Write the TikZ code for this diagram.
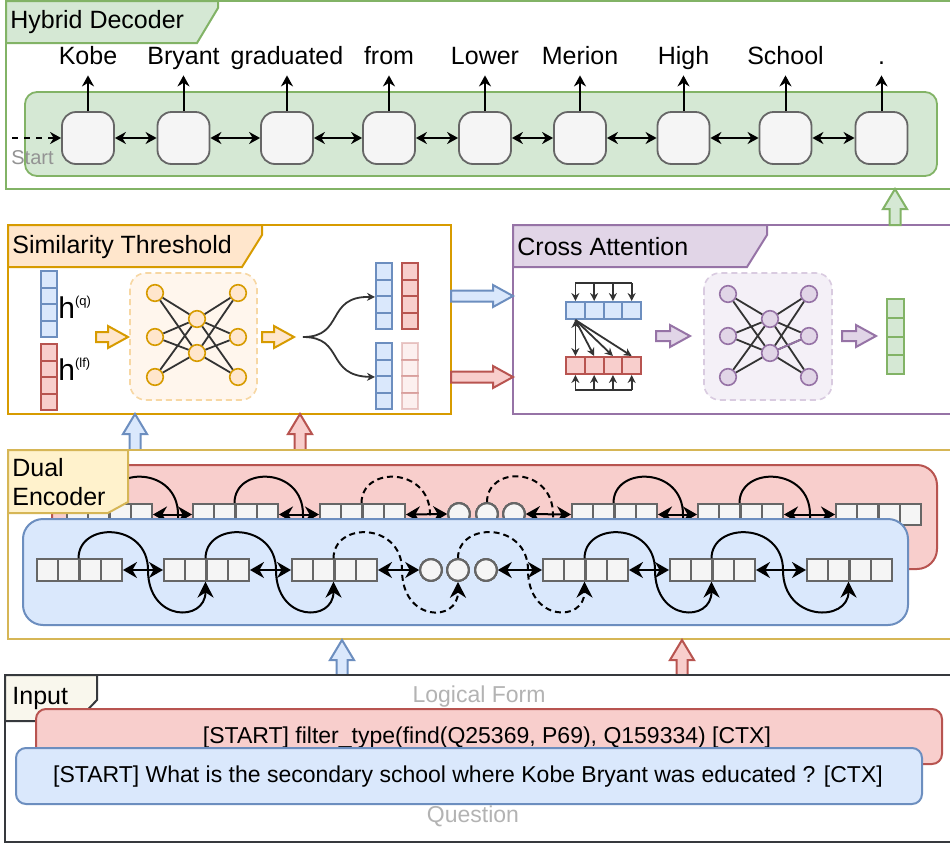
\documentclass[tikz,border=0pt]{standalone}
\usepackage{fontspec}
\setmainfont{Liberation Sans}
\usetikzlibrary{arrows.meta,calc}

\definecolor{greenF}{HTML}{D5E8D4}
\definecolor{greenS}{HTML}{82B366}
\definecolor{blueF}{HTML}{DAE8FC}
\definecolor{blueS}{HTML}{6C8EBF}
\definecolor{redF}{HTML}{F8CECC}
\definecolor{redS}{HTML}{B85450}
\definecolor{orangeF}{HTML}{FFE6CC}
\definecolor{orangeS}{HTML}{D79B00}
\definecolor{yellowF}{HTML}{FFF2CC}
\definecolor{yellowS}{HTML}{D6B656}
\definecolor{purpleF}{HTML}{E1D5E7}
\definecolor{purpleS}{HTML}{9673A6}
\definecolor{grayF}{HTML}{F5F5F5}
\definecolor{grayS}{HTML}{666666}
\definecolor{inputF}{HTML}{F9F7ED}
\definecolor{inputS}{HTML}{36393D}
\definecolor{darkG}{HTML}{333333}
\definecolor{labelG}{HTML}{B3B3B3}

% column of 4 cells: name, x, y of first cell, step, style
\newcommand{\vcol}[5]{\foreach \k in {1,...,4} \node[#5] (#1\k) at (#2,{#3+#4*(\k-1)}) {};}
% block of 4 token cells: name, left x, y
\newcommand{\tblock}[3]{\foreach \k in {1,...,4} \node[tcell] (#1-\k) at ({#2+10.625+21.25*(\k-1)},#3) {};}
% s-shaped skip connection: style, start, crossing point, end
\newcommand{\scurve}[4]{\draw[#1] (#2) .. controls +(0,-37) and +(0,-48) .. (#3) .. controls +(0,52) and +(0,41) .. (#4);}

\tikzset{
  pics/blockarr/.style args={#1/#2/#3/#4}{code={
    \draw[pic actions] (0,-#3) -- ({#1-#2},-#3) -- ({#1-#2},-#4) -- (#1,0) -- ({#1-#2},#4) -- ({#1-#2},#3) -- (0,#3) -- cycle;
  }},
}

\begin{document}
\begin{tikzpicture}[x=0.5pt,y=-0.5pt,
    every node/.style={font=\fontsize{12.5}{14.5}\selectfont},
    frame/.style={line width=1pt, fill=white},
    dcell/.style={draw=grayS, fill=grayF, line width=0.9pt, rounded corners=7pt, minimum size=26pt, inner sep=0pt},
    word/.style={anchor=base, inner sep=0pt, text depth=5.5pt},
    arr/.style={-{Stealth[length=5.5pt,width=6pt]}, line width=1pt},
    dbl/.style={{Stealth[length=5.5pt,width=6pt]}-{Stealth[length=5.5pt,width=6pt]}, line width=1pt},
    bcell/.style={draw=blueS, fill=blueF, line width=1pt, minimum width=8pt, minimum height=8.25pt, inner sep=0pt},
    rcell/.style={draw=redS, fill=redF, line width=1pt, minimum width=8pt, minimum height=8.25pt, inner sep=0pt},
    gcell/.style={draw=greenS, fill=greenF, line width=1pt, minimum width=8.5pt, minimum height=9.4pt, inner sep=0pt},
    onode/.style={circle, draw=orangeS, fill=orangeF, line width=0.8pt, minimum size=8.3pt, inner sep=0pt},
    pnode/.style={circle, draw=purpleS, fill=purpleF, line width=0.8pt, minimum size=8.3pt, inner sep=0pt},
    nnedge/.style={draw=darkG, line width=0.9pt},
    smarr/.style={-{Stealth[length=4pt,width=4pt]}, draw=darkG, line width=0.9pt},
    tcell/.style={draw=grayS, fill=grayF, line width=1pt, minimum size=10.6pt, inner sep=0pt},
    tcirc/.style={circle, draw=grayS, fill=grayF, line width=1pt, minimum size=10.8pt, inner sep=0pt},
    edbl/.style={{Stealth[length=7pt,width=8pt]}-{Stealth[length=7pt,width=8pt]}, line width=1pt},
    skip/.style={-{Stealth[length=8pt,width=8pt]}, line width=1pt},
    dskip/.style={skip, dash pattern=on 3pt off 2pt},
    barr/.style={line width=1pt}]

\useasboundingbox (0,0) rectangle (950,847);

% ---------- Hybrid Decoder
\draw[frame, draw=greenS] (6,1) rectangle (953,189);
\draw[line width=1pt, draw=greenS, fill=greenF] (6,1) -- (218,1) -- (218,8) -- (197,43) -- (6,43) -- cycle;
\node[anchor=west, inner sep=0pt] (dectitle) at (10,22) {Hybrid Decoder};
\draw[draw=greenS, fill=greenF, line width=0.9pt, rounded corners=6pt] (25,92) rectangle (937,176);

\foreach \x [count=\i] in {88,183.5,287,389,485,580,683.5,785.5,881.5}
  \node[dcell] (d\i) at (\x,138) {};
\foreach \w [count=\i] in {Kobe,Bryant,graduated,from,Lower,Merion,High,School,.}
  \path (d\i.center) ++(0,-74) node[word] (w\i) {\w};
\foreach \i in {1,...,9}
  \draw[arr] (d\i.north) -- (w\i.south);
\foreach \i [remember=\i as \lasti (initially 1)] in {2,...,9}
  \draw[dbl] (d\lasti) -- (d\i);

\coordinate (start) at (12,138);
\draw[arr, dashed] (start) -- (d1);
\node[font=\fontsize{10}{12}\selectfont, text=gray!85, anchor=west, inner sep=0pt] (startlbl) at (11,158) {Start};

% ---------- Similarity Threshold
\draw[frame, draw=orangeS] (8,225) rectangle (451,414);
\draw[line width=1pt, draw=orangeS, fill=orangeF] (8,225) -- (262,225) -- (262,235) -- (242,267) -- (8,267) -- cycle;
\node[anchor=west, inner sep=0pt] (simtitle) at (12,247) {Similarity Threshold};

\vcol{hq}{49}{279.25}{16.5}{bcell}
\vcol{hl}{49}{352.25}{16.5}{rcell}
\node[anchor=base west, inner sep=0pt] (hqlbl) at (58,318) {\fontsize{15}{15}\selectfont h\raisebox{6.5pt}{\fontsize{6.5}{7}\selectfont(q)}};
\node[anchor=base west, inner sep=0pt] (hllbl) at (58,380) {\fontsize{15}{15}\selectfont h\raisebox{6.5pt}{\fontsize{6.5}{7}\selectfont(lf)}};

\pic[barr, draw=orangeS, fill=orangeF] at (96,337) {blockarr=32/20/5/11};
\draw[draw=orangeF!80!orangeS, fill=orangeF!35, line width=0.8pt, dash pattern=on 3pt off 2pt, rounded corners=8pt] (130,273) rectangle (257,400);
\foreach \y [count=\i] in {293,337,377} {
  \node[onode] (ol\i) at (155,\y) {};
  \node[onode] (or\i) at (238,\y) {};
}
\node[onode] (om1) at (197,319) {};
\node[onode] (om2) at (197,353) {};
\foreach \a in {1,2,3} \foreach \b in {1,2}
  \draw[nnedge] (ol\a) -- (om\b) (om\b) -- (or\a);
\pic[barr, draw=orangeS, fill=orangeF] at (262,337) {blockarr=32/20/5/11};

\vcol{sb}{384}{271.25}{16.5}{bcell}
\vcol{sr}{410}{271.25}{16.5}{rcell}
\vcol{tb}{384}{351.25}{16.5}{bcell}
\vcol{tr}{410}{351.25}{16.5}{rcell, opacity=0.3}
\coordinate (fork) at (303,337);
\draw[smarr] (fork) .. controls (345,337) and (325,296) .. (sb2.south west);
\draw[smarr] (fork) .. controls (345,337) and (325,376) .. (tb2.south west);

% ---------- Cross Attention
\draw[frame, draw=purpleS] (513,225) rectangle (953,414);
\draw[line width=1pt, draw=purpleS, fill=purpleF] (513,225) -- (767,225) -- (767,235) -- (747,267) -- (513,267) -- cycle;
\node[anchor=west, inner sep=0pt] (crosstitle) at (517,247) {Cross Attention};

\pic[barr, draw=blueS, fill=blueF] at (451,296) {blockarr=62/20/5.5/11};
\pic[barr, draw=redS, fill=redF] at (451,377) {blockarr=62/20/5.5/11};

\foreach \k in {1,...,4} {
  \node[bcell, minimum width=9.4pt, minimum height=8.5pt] (qa\k) at ({575.4+18.75*(\k-1)},310.5) {};
  \node[rcell, minimum width=9.4pt, minimum height=8.5pt] (ka\k) at ({575.4+18.75*(\k-1)},365.5) {};
}
\draw[draw=darkG, line width=0.9pt] ([yshift=9pt]qa1.north) -- ([yshift=9pt]qa4.north);
\draw[draw=darkG, line width=0.9pt] ([yshift=-7.5pt]ka1.south) -- ([yshift=-7.5pt]ka4.south);
\foreach \k in {1,...,4} {
  \draw[smarr] ([yshift=9pt]qa\k.north) -- (qa\k.north);
  \draw[smarr] ([yshift=-7.5pt]ka\k.south) -- (ka\k.south);
}
\draw[smarr, {Stealth[length=4pt,width=4pt]}-{Stealth[length=4pt,width=4pt]}] (qa1.south) -- (ka1.north);
\foreach \k in {2,3,4}
  \draw[smarr] (qa1.south) -- (ka\k.north);

\pic[barr, draw=purpleS, fill=purpleF] at (656,336) {blockarr=34/20/5/11};
\draw[draw=purpleF!90!purpleS, fill=purpleF!35, line width=0.8pt, dash pattern=on 3pt off 2pt, rounded corners=8pt] (704,273) rectangle (832,400);
\foreach \y [count=\i] in {294,336,377} {
  \node[pnode] (pl\i) at (728,\y) {};
  \node[pnode] (pr\i) at (809,\y) {};
}
\node[pnode] (pm1) at (770,319) {};
\node[pnode] (pm2) at (770,353) {};
\foreach \a in {1,2,3} \foreach \b in {1,2}
  \draw[nnedge] (pl\a) -- (pm\b) (pm\b) -- (pr\a);
\draw[nnedge, draw=purpleS] (pm2) -- (pr2);
\pic[barr, draw=purpleS, fill=purpleF] at (842,336) {blockarr=34/20/5/11};
\vcol{ov}{895}{308.4}{18.75}{gcell}

\pic[barr, draw=greenS, fill=greenF, rotate=90] at (895,225) {blockarr=36/20/5.5/12};

% ---------- Dual Encoder
\pic[barr, draw=blueS, fill=blueF, rotate=90] at (135,450) {blockarr=36/20/5.5/12};
\pic[barr, draw=redS, fill=redF, rotate=90] at (300,450) {blockarr=36/20/5.5/12};

\draw[frame, draw=yellowS] (8,450) rectangle (953,639);

% logical form encoder
\draw[draw=redS, fill=redF, line width=1pt, rounded corners=10pt] (52,465) rectangle (937,569);
\foreach \n/\x in {rb1/67,rb2/193,rb3/320,rb4/572,rb5/698,rb6/836}
  \tblock{\n}{\x}{514.5}
\foreach \x [count=\i] in {459,487,514}
  \node[tcirc] (rc\i) at (\x,514) {};
\draw[edbl] (rb1-4.east) -- (rb2-1.west);
\draw[edbl] (rb2-4.east) -- (rb3-1.west);
\draw[edbl] (rb3-4.east) -- (rc1.west);
\draw[edbl] (rc3.east) -- (rb4-1.west);
\draw[edbl] (rb4-4.east) -- (rb5-1.west);
\draw[edbl] (rb5-4.east) -- (rb6-1.west);
\scurve{skip}{rb1-3.north west}{178,514.5}{rb2-3.south west}
\scurve{skip}{rb2-3.north west}{303,514.5}{rb3-3.south west}
\scurve{dskip}{rb3-3.north west}{430,514.5}{rc2.south}
\scurve{dskip}{rc2.north}{553,514.5}{rb4-3.south west}
\scurve{skip}{rb4-3.north west}{683,514.5}{rb5-3.south west}
\scurve{skip}{rb5-3.north west}{810,514.5}{rb6-3.south west}

% question encoder
\draw[draw=blueS, fill=blueF, line width=1pt, rounded corners=10pt] (23,519) rectangle (908,625);
\foreach \n/\x in {bb1/37,bb2/164,bb3/292,bb4/543,bb5/670,bb6/807}
  \tblock{\n}{\x}{570}
\foreach \x [count=\i] in {431,458,486}
  \node[tcirc] (bc\i) at (\x,570) {};
\draw[edbl] (bb1-4.east) -- (bb2-1.west);
\draw[edbl] (bb2-4.east) -- (bb3-1.west);
\draw[edbl] (bb3-4.east) -- (bc1.west);
\draw[edbl] (bc3.east) -- (bb4-1.west);
\draw[edbl] (bb4-4.east) -- (bb5-1.west);
\draw[edbl] (bb5-4.east) -- (bb6-1.west);
\scurve{skip}{bb1-3.north west}{148,570}{bb2-3.south west}
\scurve{skip}{bb2-3.north west}{276,570}{bb3-3.south west}
\scurve{dskip}{bb3-3.north west}{402,570}{bc2.south}
\scurve{dskip}{bc2.north}{528,570}{bb4-3.south west}
\scurve{skip}{bb4-3.north west}{655,570}{bb5-3.south west}
\scurve{skip}{bb5-3.north west}{783,570}{bb6-3.south west}

\draw[line width=1pt, draw=yellowS, fill=yellowF] (8,450) -- (128,450) -- (128,502) -- (108,513) -- (8,513) -- cycle;
\node[anchor=west, align=left, inner sep=0pt] (enctitle) at (12,482.5) {Dual\\Encoder};

% ---------- Input
\pic[barr, draw=blueS, fill=blueF, rotate=90] at (342,675) {blockarr=35/20/5.5/12};
\pic[barr, draw=redS, fill=redF, rotate=90] at (682,675) {blockarr=35/20/5.5/12};

\draw[frame, draw=inputS] (5,675) rectangle (953,842);
\draw[line width=1pt, draw=inputS, fill=inputF] (5,675) -- (97,675) -- (97,700) -- (77,721) -- (5,721) -- cycle;
\node[anchor=west, inner sep=0pt] (inputtitle) at (12,698) {Input};

\node[font=\fontsize{11.5}{13}\selectfont, text=labelG] (lflbl) at (479,697) {Logical Form};
\draw[draw=redS, fill=redF, line width=1pt, rounded corners=5pt] (36,709) rectangle (942,764);
\node[font=\fontsize{11.5}{13}\selectfont] (lftext) at (487,738) {[START] filter\_type(find(Q25369, P69), Q159334) [CTX]};
\draw[draw=blueS, fill=blueF, line width=1pt, rounded corners=5pt] (16,748) rectangle (922,804);
\node[font=\fontsize{11.5}{13}\selectfont] (qtext) at (468,777) {[START] What is the secondary school where Kobe Bryant was educated ? [CTX]};
\node[font=\fontsize{11.5}{13}\selectfont, text=labelG] (qlbl) at (473,816) {Question};

\end{tikzpicture}
\end{document}
